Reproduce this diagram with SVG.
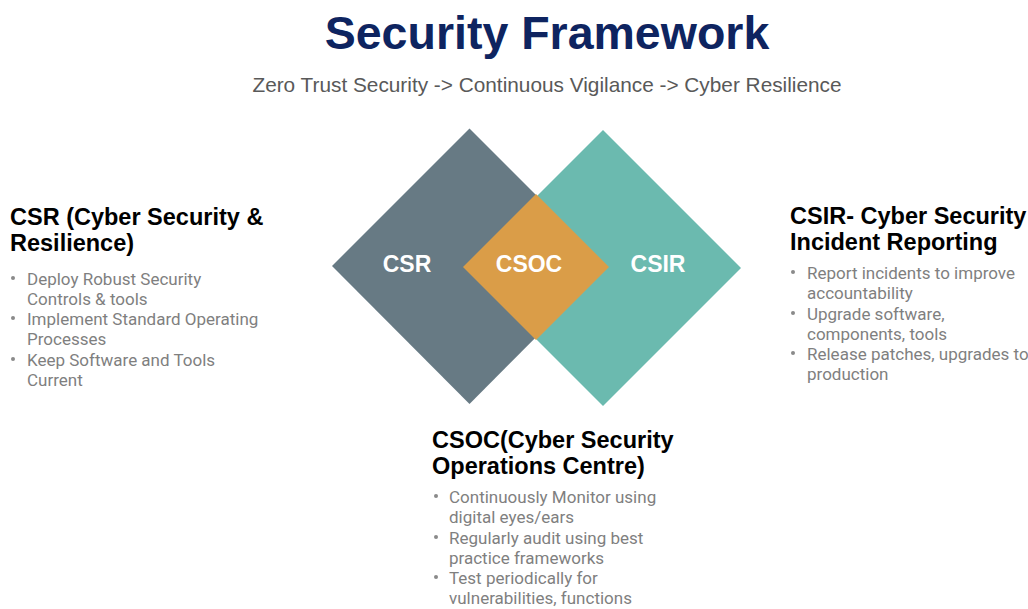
<svg xmlns="http://www.w3.org/2000/svg" width="1028" height="609" viewBox="0 0 1028 609">
  <style>
    .title { font-family: "Liberation Sans", Arial, sans-serif; font-weight: bold; font-size: 46.5px; fill: #0E2460; }
    .subtitle { font-family: "Liberation Sans", Arial, sans-serif; font-size: 20.8px; fill: #595959; }
    .heading { font-family: "Liberation Sans", Arial, sans-serif; font-weight: bold; font-size: 23.5px; fill: #000000; }
    .bullet { font-family: Roboto, "Liberation Sans", sans-serif; font-size: 17px; fill: #7F7F7F; }
    .dot { fill: #8A8A8A; }
    .label { font-family: "Liberation Sans", Arial, sans-serif; font-weight: bold; font-size: 23px; fill: #FFFFFF; text-anchor: middle; }
  </style>
  <rect width="1028" height="609" fill="#FFFFFF"/>

  <text class="title" x="547" y="49" text-anchor="middle">Security Framework</text>
  <text class="subtitle" x="547" y="92" text-anchor="middle">Zero Trust Security -&gt; Continuous Vigilance -&gt; Cyber Resilience</text>

  <!-- diamonds -->
  <g id="csr-diamond">
    <polygon points="469.5,128.5 607,266 469.5,404 332,266" fill="#677A84"/>
    <text class="label" x="407" y="272">CSR</text>
  </g>
  <g id="csir-diamond">
    <polygon points="603,130 741,268 603,406 465,268" fill="#6BBAAF"/>
    <text class="label" x="658" y="272">CSIR</text>
  </g>
  <g id="csoc-diamond">
    <polygon points="536,194 609,267 536,340 463,267" fill="#DA9D48"/>
    <text class="label" x="529" y="272">CSOC</text>
  </g>

  <g id="connectors"></g>

  <!-- left description -->
  <g id="csr-text">
    <text class="heading" x="10" y="225">CSR (Cyber Security &amp;</text>
    <text class="heading" x="10" y="251">Resilience)</text>
    <circle class="dot" cx="13" cy="278" r="2"/>
    <text class="bullet" x="27" y="285">Deploy Robust Security</text>
    <text class="bullet" x="27" y="305">Controls &amp; tools</text>
    <circle class="dot" cx="13" cy="318" r="2"/>
    <text class="bullet" x="27" y="325">Implement Standard Operating</text>
    <text class="bullet" x="27" y="345">Processes</text>
    <circle class="dot" cx="13" cy="359" r="2"/>
    <text class="bullet" x="27" y="366">Keep Software and Tools</text>
    <text class="bullet" x="27" y="386">Current</text>
  </g>

  <!-- right description -->
  <g id="csir-text">
    <text class="heading" x="790" y="224">CSIR- Cyber Security</text>
    <text class="heading" x="790" y="250">Incident Reporting</text>
    <circle class="dot" cx="793" cy="272" r="2"/>
    <text class="bullet" x="807" y="279">Report incidents to improve</text>
    <text class="bullet" x="807" y="299">accountability</text>
    <circle class="dot" cx="793" cy="313" r="2"/>
    <text class="bullet" x="807" y="320">Upgrade software,</text>
    <text class="bullet" x="807" y="340">components, tools</text>
    <circle class="dot" cx="793" cy="353" r="2"/>
    <text class="bullet" x="807" y="360">Release patches, upgrades to</text>
    <text class="bullet" x="807" y="380">production</text>
  </g>

  <!-- bottom description -->
  <g id="csoc-text">
    <text class="heading" x="432" y="448">CSOC(Cyber Security</text>
    <text class="heading" x="432" y="474">Operations Centre)</text>
    <circle class="dot" cx="436" cy="496" r="2"/>
    <text class="bullet" x="449" y="503">Continuously Monitor using</text>
    <text class="bullet" x="449" y="523">digital eyes/ears</text>
    <circle class="dot" cx="436" cy="537" r="2"/>
    <text class="bullet" x="449" y="544">Regularly audit using best</text>
    <text class="bullet" x="449" y="564">practice frameworks</text>
    <circle class="dot" cx="436" cy="577" r="2"/>
    <text class="bullet" x="449" y="584">Test periodically for</text>
    <text class="bullet" x="449" y="604">vulnerabilities, functions</text>
  </g>
</svg>
